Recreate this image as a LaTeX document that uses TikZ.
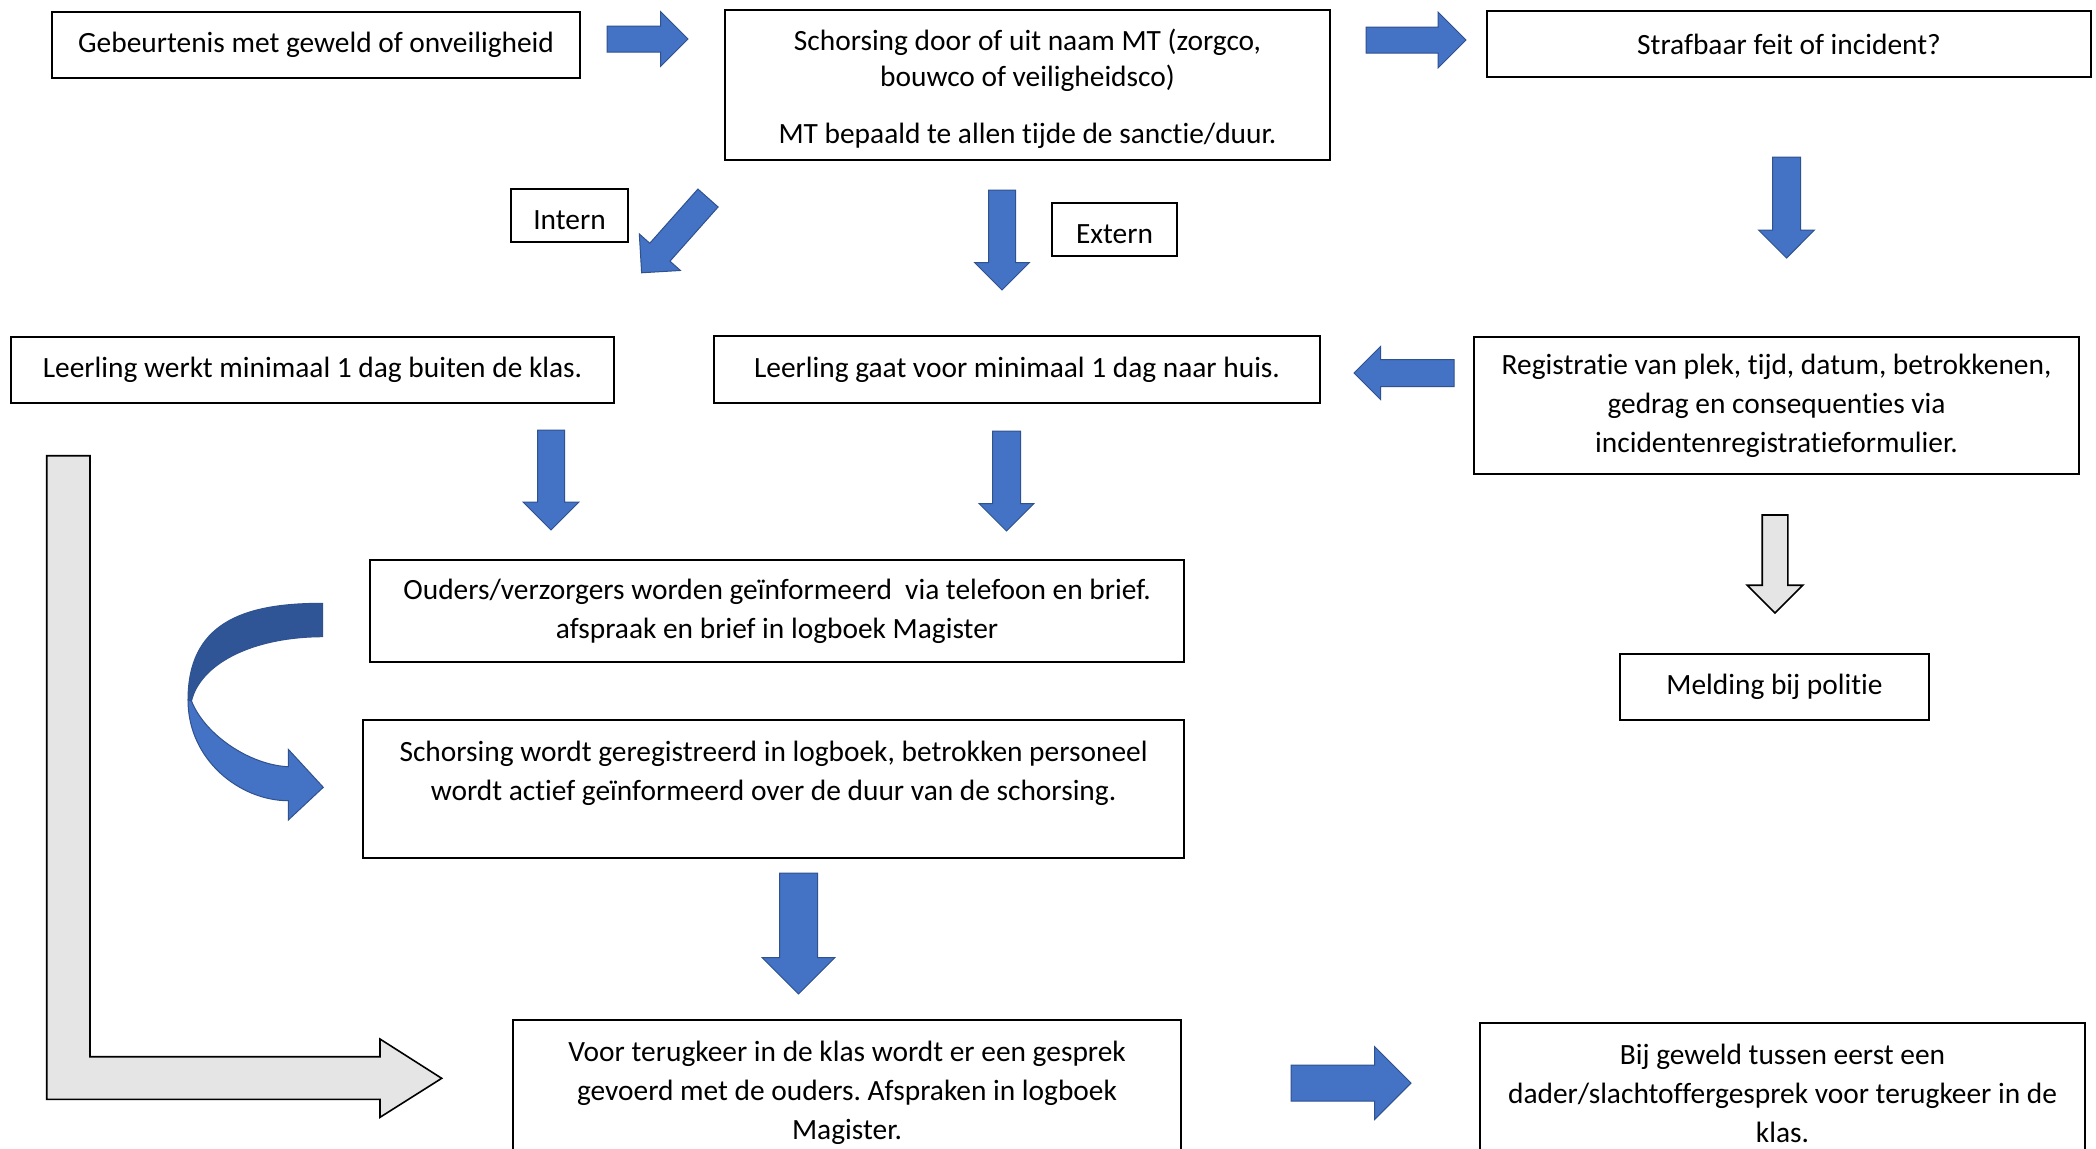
\documentclass[tikz,border=0pt]{standalone}
\usepackage{fontspec}
\setmainfont{Carlito}[Ligatures=NoCommon]
\usepackage{tikz}
\usetikzlibrary{shapes.arrows}
\definecolor{pijlblauw}{HTML}{4472C4}
\definecolor{pijlrand}{HTML}{2F528F}
\definecolor{pijldonker}{HTML}{2F5597}
\definecolor{pijlgrijs}{HTML}{E5E5E5}
\tikzset{blok/.style={
        draw, 
        rectangle, 
        line width=0.8pt, 
        align=center,  
        inner sep=0pt } }
\tikzset{pijl/.style={
    single arrow, 
    draw=pijlrand, 
    fill=pijlblauw, 
    line width=0.5pt, 
    inner xsep=0pt, 
    outer sep=0pt, 
    anchor=tail } }
\tikzset{pijlg/.style={
    pijl, 
    draw=black, 
    fill=pijlgrijs, 
    line width=0.8pt } }

\begin{document}
\frenchspacing
\begin{tikzpicture}[x=0.5pt,y=-0.5pt,font=\fontsize{14.7}{19.5}\selectfont] % 1 eenheid = 1 px

\useasboundingbox[fill=white] (0,0) rectangle (2096,1148);

\node[blok, minimum width=264pt, minimum height=33pt] (geb) at (316,45) 
{Gebeurtenis met geweld of onveiligheid}; 
\node[blok, minimum width=302.5pt, minimum height=75pt] (schors) at (1027.5,85) 
[label={[anchor=north,yshift=-6.3pt,align=center,font=\fontsize{14.7}{18}\selectfont]north:{Schorsing door of uit naam MT (zorgco,\\bouwco of veiligheidsco)\\[10.75pt]MT bepaald te allen tijde de sanctie/duur.}}] {}; 
\node[blok, minimum width=302pt, minimum height=33pt] (straf) at (1789,44) 
{Strafbaar feit of incident?}; 

\node[blok, minimum width=58.5pt, minimum height=26.5pt, text height=14pt] (intern) at (569.5,215.5) {Intern}; 
\node[blok, minimum width=62.5pt, minimum height=26.5pt, text height=14pt] (extern) at (1114.5,229.5) {Extern}; 

\node[blok, minimum width=301.5pt, minimum height=33pt] (werkt) at (312.5,370) 
{Leerling werkt minimaal 1 dag buiten de klas.}; 
\node[blok, minimum width=303pt, minimum height=33.5pt] (huis) at (1017,369.5) 
{Leerling gaat voor minimaal 1 dag naar huis.}; 
\node[blok, minimum width=302.5pt, minimum height=68.5pt] (regi) at (1776.5,405.5) 
{Registratie van plek, tijd, datum, betrokkenen,\\gedrag en consequenties via\\incidentenregistratieformulier.}; 

\node[blok, minimum width=407pt, minimum height=51pt] (ouders) at (777,611) 
{Ouders/verzorgers worden geïnformeerd\ \ via telefoon en brief.\\afspraak en brief in logboek Magister}; 
\node[blok, minimum width=154.5pt, minimum height=33pt] (melding) at (1774.5,687) 
{Melding bij politie}; 
\node[blok, minimum width=410.5pt, minimum height=69pt] (logb) at (773.5,789) 
[label={[anchor=north,yshift=-7.5pt,align=center]north:{Schorsing wordt geregistreerd in logboek, betrokken personeel\\wordt actief geïnformeerd over de duur van de schorsing.}}] {}; 

\node[blok, minimum width=334pt, minimum height=70pt] (terug) at (847,1090) 
[label={[anchor=north,yshift=-7.5pt,align=center]north:{Voor terugkeer in de klas wordt er een gesprek\\gevoerd met de ouders. Afspraken in logboek\\Magister.}}] {}; 
\node[blok, minimum width=302.5pt, minimum height=68.5pt] (dader) at (1782.5,1091.5) 
[label={[anchor=north,yshift=-7.5pt,align=center]north:{Bij geweld tussen eerst een\\dader/slachtoffergesprek voor terugkeer in de\\klas.}}] {}; 

% blokpijlen (inner ysep = halve schacht)
\node[pijl, minimum height=40.5pt, minimum width=27pt, inner ysep=6.25pt, single arrow head extend=7.25pt] (p1) at (607,39) {};
\node[pijl, minimum height=50pt, minimum width=27.5pt, inner ysep=6.25pt, single arrow head extend=7.5pt] (p2) at (1366,40) {};
\node[pijl, minimum height=50.5pt, minimum width=27.5pt, inner ysep=6.75pt, single arrow head extend=7pt, rotate=-90] (p3) at (1786.5,157) {};
\node[pijl, minimum height=50pt, minimum width=26pt, inner ysep=6.5pt, single arrow head extend=6.5pt, rotate=180] (p4) at (1454,373) {};
\node[pijl, minimum height=50pt, minimum width=27pt, inner ysep=6.5pt, single arrow head extend=7pt, rotate=228.4] (p5) at (708,198) {};
\node[pijl, minimum height=50pt, minimum width=27pt, inner ysep=6.5pt, single arrow head extend=7pt, rotate=-90] (p6) at (1002,190) {};
\node[pijl, minimum height=50pt, minimum width=27.5pt, inner ysep=6.5pt, single arrow head extend=7.25pt, rotate=-90] (p7) at (551,430) {};
\node[pijl, minimum height=50pt, minimum width=27pt, inner ysep=6.75pt, single arrow head extend=6.75pt, rotate=-90] (p8) at (1006.5,431) {};
\node[pijl, minimum height=60.5pt, minimum width=36pt, inner ysep=9.25pt, single arrow head extend=8.75pt, rotate=-90] (p9) at (798.5,873) {};
\node[pijl, minimum height=60pt, minimum width=36pt, inner ysep=8.75pt, single arrow head extend=9.25pt] (p10) at (1291,1083) {};
\node[pijlg, minimum height=49pt, minimum width=27pt, inner ysep=6pt, single arrow head extend=7.5pt, rotate=-90] (p11) at (1775,515) {};

% gebogen pijl
\filldraw[fill=pijldonker, draw=pijlrand, line width=0.5pt] 
(322.7,603.3) .. controls (240,603) and (188,625) .. (188,700) 
-- (191.5,701) .. controls (200,665) and (250,637) .. (322.7,636.7) -- cycle;
\filldraw[fill=pijlblauw, draw=pijlrand, line width=0.5pt] 
(188,700) .. controls (188,760) and (240,800.7) .. (288.3,800.7) 
-- (288.3,820) -- (323.3,787.3) -- (288.3,749.3) -- (288.3,766.7) 
.. controls (250,765) and (205,735) .. (191.5,701) -- cycle;

% L-pijl
\filldraw[fill=pijlgrijs, draw=black, line width=0.8pt] 
(46.7,455.7) -- (90,455.7) -- (90,1056.7) -- (380,1056.7) -- (380,1039) 
-- (441.7,1078.3) -- (380,1117.3) -- (380,1099.3) -- (46.7,1099.3) -- cycle;

\end{tikzpicture}
\end{document}
